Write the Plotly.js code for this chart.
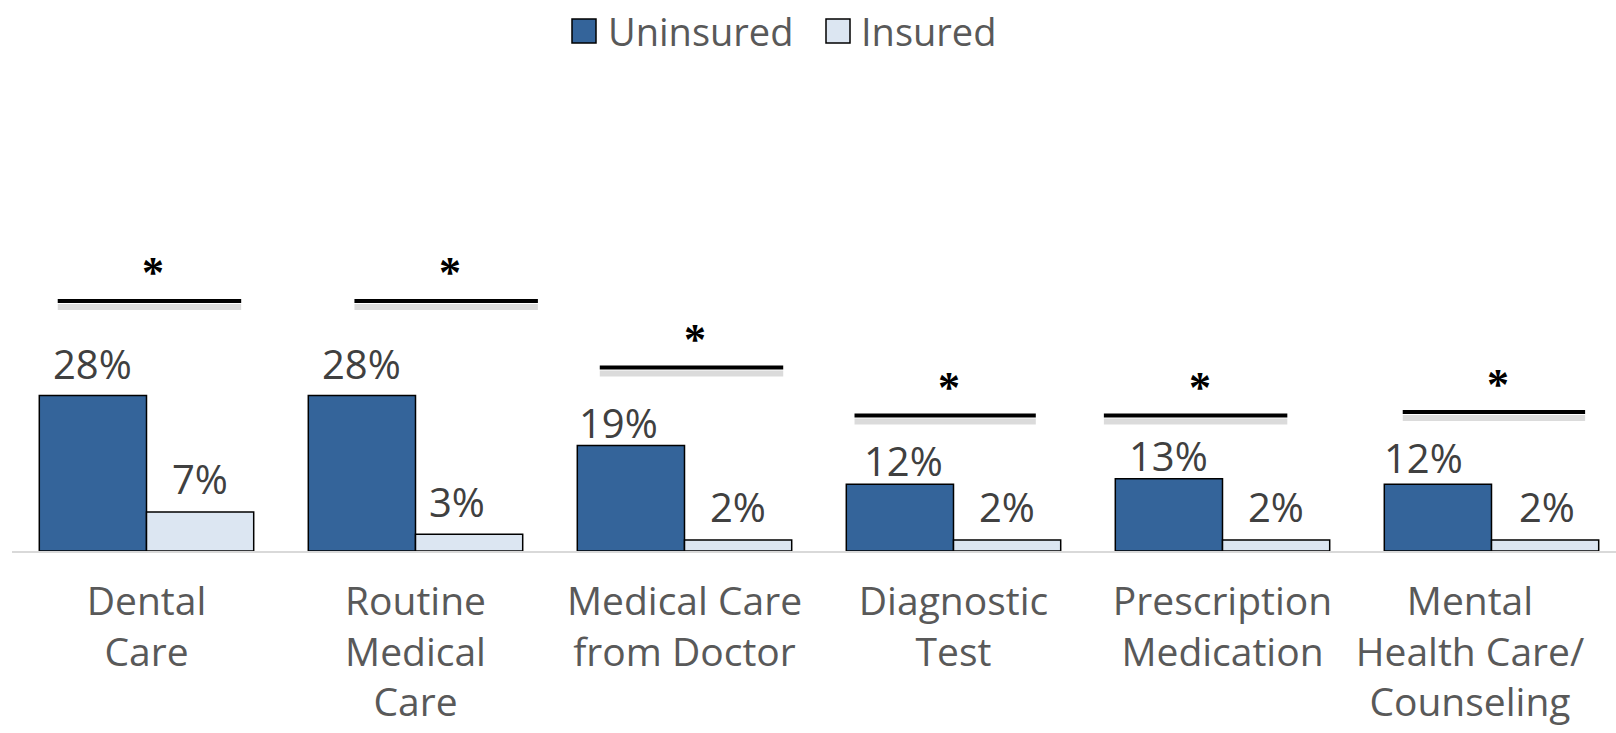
<!DOCTYPE html>
<html>
<head>
<meta charset="utf-8">
<script src="https://cdn.plot.ly/plotly-3.0.1.min.js"></script>
<style>
html,body{margin:0;padding:0;background:#fff;}
#chart{width:1616px;height:733px;}
</style>
</head>
<body>
<div id="chart"></div>
<script>
// ---- Data ----
const categories = [
  "Dental<br>Care",
  "Routine<br>Medical<br>Care",
  "Medical Care<br>from Doctor",
  "Diagnostic<br>Test",
  "Prescription<br>Medication",
  "Mental<br>Health Care/<br>Counseling"
];
const seriesNames = ["Uninsured", "Insured"];
const uninsured = [28, 28, 19, 12, 13, 12];
const insured = [7, 3, 2, 2, 2, 2];
const significant = [true, true, true, true, true, true];

// ---- Annotation layout (significance bars, label offsets) ----
const sigLevel = [45, 45, 33, 24.4, 24.4, 25];
const sigStart = [-0.33, -0.227, -0.315, -0.368, -0.441, -0.33];
const sigEnd = [0.352, 0.455, 0.367, 0.306, 0.241, 0.348];
const uninsLabelShift = [32, 32, 23, 24, 23, 27];
const uninsLabelXShift = [0, 0, -12, 4, 0, -14];
const insLabelShift = [34, 33, 33, 33, 33, 33];
const insLabelXShift = [0, -12, 0, 0, 0, 2];
const tickShift = [0, 0, 0, 0, 0, -0.08];

const FONT = "'Open Sans', sans-serif";
const COLORS = ["#34649A", "#DCE6F2"];
const bargap = 0.203;
const half = (1 - bargap) / 4;
const idx = categories.map((c, i) => i);

const traces = [
  {
    type: "bar", name: seriesNames[0], x: idx, y: uninsured,
    marker: {color: COLORS[0], line: {color: "#000000", width: 1.5}},
    hoverinfo: "skip", showlegend: false
  },
  {
    type: "bar", name: seriesNames[1], x: idx, y: insured,
    marker: {color: COLORS[1], line: {color: "#000000", width: 1.5}},
    hoverinfo: "skip", showlegend: false
  }
];

const annotations = [];
const shapes = [];
idx.forEach(i => {
  annotations.push({
    x: i - half, y: uninsured[i], xref: "x", yref: "y",
    text: uninsured[i] + "%", showarrow: false, yanchor: "middle",
    xshift: uninsLabelXShift[i], yshift: uninsLabelShift[i],
    font: {family: FONT, size: 40, color: "#404040"}
  });
  annotations.push({
    x: i + half, y: insured[i], xref: "x", yref: "y",
    text: insured[i] + "%", showarrow: false, yanchor: "middle",
    xshift: insLabelXShift[i], yshift: insLabelShift[i],
    font: {family: FONT, size: 40, color: "#404040"}
  });
  if (significant[i]) {
    const x0 = i + sigStart[i], x1 = i + sigEnd[i];
    shapes.push({
      type: "line", xref: "x", yref: "y", x0: x0, x1: x1,
      ysizemode: "pixel", yanchor: sigLevel[i], y0: -6, y1: -6,
      line: {color: "rgba(0,0,0,0.14)", width: 6}
    });
    shapes.push({
      type: "line", xref: "x", yref: "y", x0: x0, x1: x1,
      y0: sigLevel[i], y1: sigLevel[i],
      line: {color: "#000000", width: 4}
    });
    annotations.push({
      x: (x0 + x1) / 2, y: sigLevel[i], xref: "x", yref: "y",
      text: "<b>*</b>", showarrow: false, yanchor: "middle", xshift: 4,
      yshift: 28, font: {family: "'Liberation Serif', serif", size: 44, color: "#000000"}
    });
  }
});

// ---- Custom legend (large square swatches) ----
const W = 1616, H = 733;
const legendItems = [
  {x0: 572, text: 606},
  {x0: 826, text: 859}
];
legendItems.forEach((it, k) => {
  shapes.push({
    type: "rect", xref: "paper", yref: "paper",
    xsizemode: "pixel", ysizemode: "pixel",
    xanchor: (it.x0 - 12) / (W - 12), yanchor: 1 + (80 - 31) / (551 - 80),
    x0: 0, x1: 24, y0: -12, y1: 12,
    fillcolor: COLORS[k], line: {color: "#000000", width: 1.5}
  });
  annotations.push({
    xref: "paper", yref: "paper",
    x: (it.text - 12) / (W - 12), y: 1 + (80 - 31) / (551 - 80),
    xanchor: "left", yanchor: "middle", showarrow: false,
    text: seriesNames[k], font: {family: FONT, size: 38, color: "#595959"}
  });
});

const plotTop = 80, plotBottom = 551;
const pxPerUnit = 5.557;
const layout = {
  width: W, height: H,
  margin: {l: 12, r: 0, t: plotTop, b: H - plotBottom},
  paper_bgcolor: "#ffffff", plot_bgcolor: "#ffffff",
  barmode: "group", bargap: bargap, bargroupgap: 0,
  font: {family: FONT, color: "#595959"},
  showlegend: false,
  xaxis: {
    type: "linear", range: [-0.5, -0.5 + 1604 / 269],
    tickvals: idx.map(i => i + tickShift[i]), ticktext: categories,
    showgrid: false, zeroline: false, showline: true, linecolor: "#D9D9D9", linewidth: 2,
    ticks: "", ticklabelstandoff: 15,
    tickfont: {family: FONT, size: 39, color: "#595959"}, fixedrange: true
  },
  yaxis: {
    range: [0, (plotBottom - plotTop) / pxPerUnit], showgrid: false, zeroline: false,
    showline: false, showticklabels: false, ticks: "", fixedrange: true
  },
  annotations: annotations,
  shapes: shapes
};

Plotly.newPlot("chart", traces, layout, {displayModeBar: false, staticPlot: true});
</script>
</body>
</html>
